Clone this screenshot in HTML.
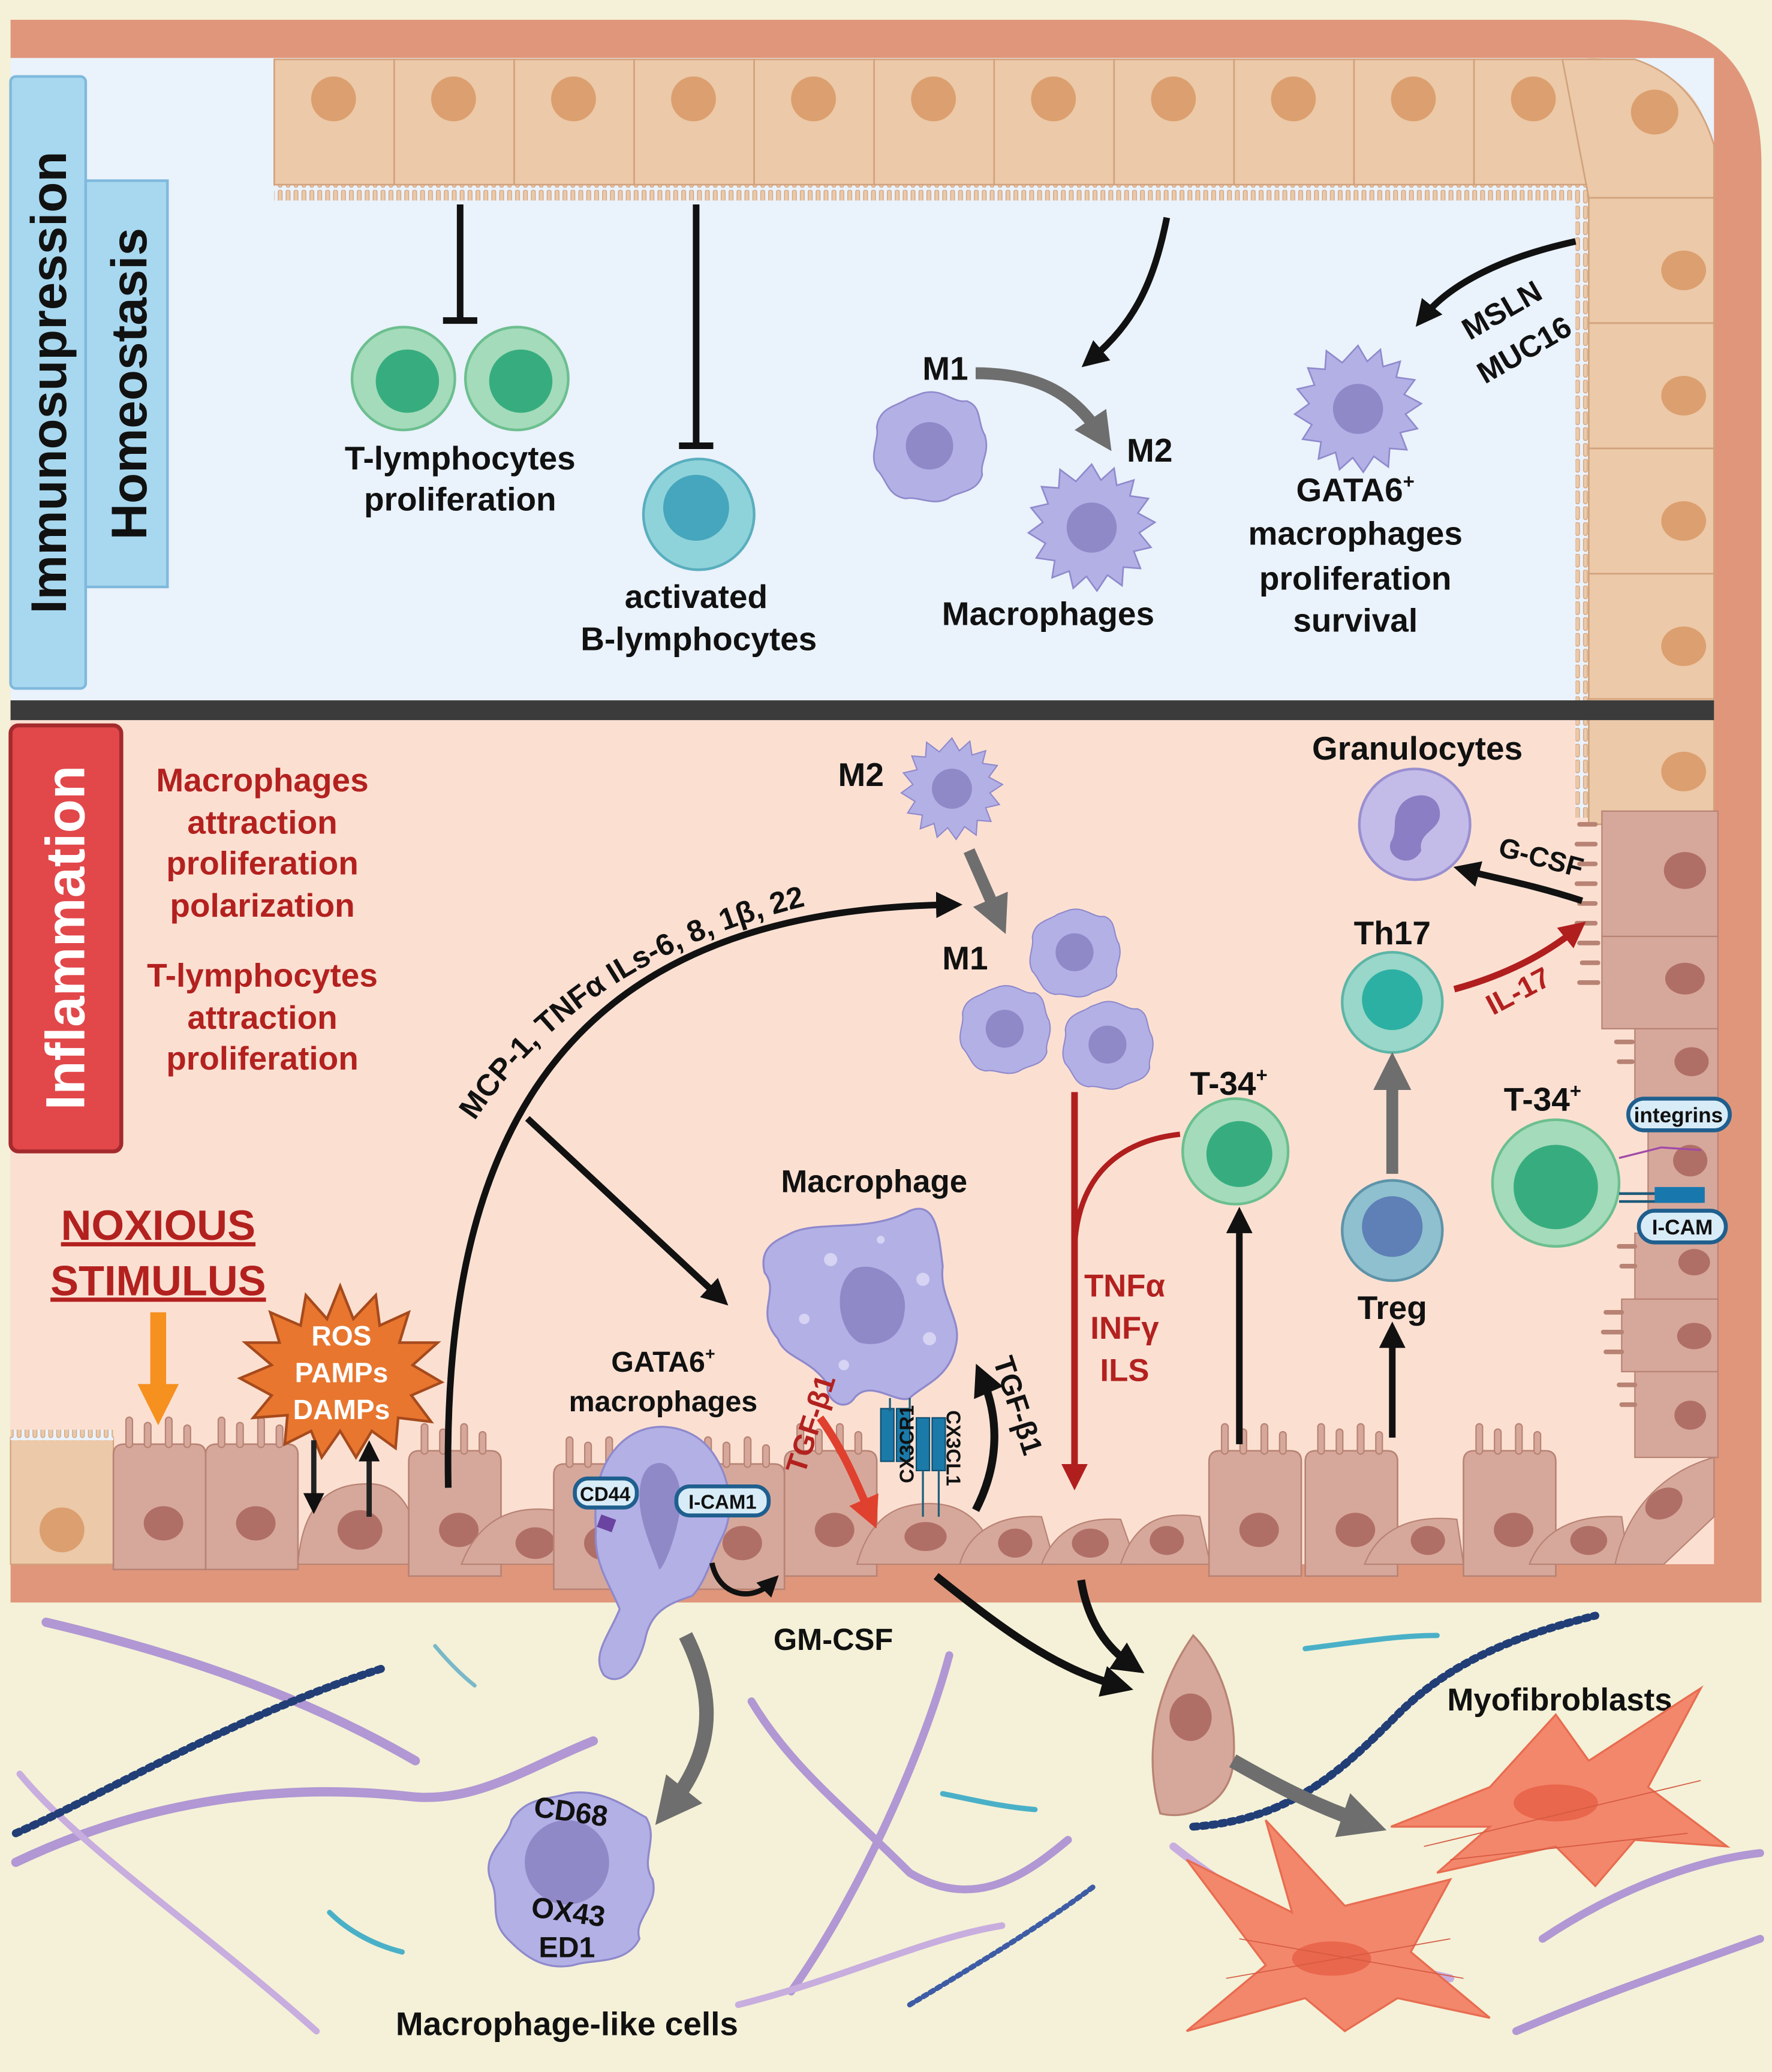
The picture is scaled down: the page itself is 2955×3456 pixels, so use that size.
<!DOCTYPE html>
<html><head><meta charset="utf-8">
<style>
html,body{margin:0;padding:0;background:#f4f1d8;}
svg{display:block}
text{font-family:"Liberation Sans",sans-serif;font-weight:bold;}
</style></head>
<body>
<svg xmlns="http://www.w3.org/2000/svg" width="2955" height="3456" viewBox="0 0 1344 1571" preserveAspectRatio="none">
<defs>
<marker id="ab" viewBox="0 0 10 10" refX="5" refY="5" markerWidth="4" markerHeight="4" orient="auto-start-reverse"><path d="M0,0 L10,5 L0,10 z" fill="#111"/></marker>
<marker id="ag" viewBox="0 0 10 10" refX="5" refY="5" markerWidth="3.2" markerHeight="3.2" orient="auto"><path d="M0,0 L10,5 L0,10 z" fill="#6e6e6e"/></marker>
<marker id="ar" viewBox="0 0 10 10" refX="5" refY="5" markerWidth="4" markerHeight="4" orient="auto"><path d="M0,0 L10,5 L0,10 z" fill="#b01e1e"/></marker>
<marker id="ar2" viewBox="0 0 10 10" refX="5" refY="5" markerWidth="4" markerHeight="4" orient="auto"><path d="M0,0 L10,5 L0,10 z" fill="#e0402e"/></marker>
<marker id="ao" viewBox="0 0 10 10" refX="5" refY="5" markerWidth="2.6" markerHeight="2.6" orient="auto"><path d="M0,0 L10,5 L0,10 z" fill="#f6901e"/></marker>
<pattern id="mv" width="6" height="12" patternUnits="userSpaceOnUse"><rect width="6" height="12" fill="#eaf2fb"/><rect x="1" y="0" width="3" height="10" rx="1.5" fill="#ecc9a8" stroke="#d1a27d" stroke-width="0.6"/></pattern>
<g id="spiky">
<path d="M0,-48 L7,-36 L17,-45 L19,-32 L32,-36 L29,-24 L43,-22 L35,-11 L48,-4 L36,4 L45,15 L32,18 L37,31 L24,30 L23,44 L12,36 L4,48 L-4,37 L-14,46 L-17,33 L-30,38 L-28,25 L-42,23 L-35,12 L-48,4 L-37,-4 L-46,-15 L-33,-18 L-38,-31 L-25,-30 L-24,-44 L-12,-35 Z" fill="#b3b0e6" stroke="#8f89cc" stroke-width="1.2"/>
<circle r="19" fill="#9089c8"/>
</g>
<g id="blob">
<path d="M-5,-40 C10,-44 18,-32 28,-34 C40,-30 36,-18 42,-8 C46,6 38,12 40,22 C36,36 22,34 14,40 C2,46 -8,38 -18,40 C-32,38 -32,26 -40,18 C-46,6 -38,-4 -40,-14 C-38,-30 -24,-30 -16,-36 Z" fill="#b3b0e6" stroke="#8f89cc" stroke-width="1.2"/>
<circle r="18" fill="#9089c8"/>
</g>
<g id="topcell"><rect x="0" y="45" width="91" height="95" fill="#ecc9a8" stroke="#d1a27d" stroke-width="1.2"/><ellipse cx="45" cy="75" rx="17" ry="17" fill="#dc9f6f"/></g>
<g id="rcell"><rect x="0" y="0" width="95" height="95" fill="#ecc9a8" stroke="#d1a27d" stroke-width="1.2"/><ellipse cx="72" cy="55" rx="17" ry="15" fill="#dc9f6f"/></g>
<g id="bcell"><path d="M0,95 L0,8 Q0,0 8,0 L62,0 Q70,0 70,8 L70,95 Z" fill="#d6a89b" stroke="#b88374" stroke-width="1.2"/><ellipse cx="38" cy="60" rx="15" ry="13" fill="#b06f66"/><path d="M12,0 v-18 M26,0 v-14 M42,0 v-18 M56,0 v-12" stroke="#b88374" stroke-width="6" stroke-linecap="round"/><path d="M12,0 v-18 M26,0 v-14 M42,0 v-18 M56,0 v-12" stroke="#d6a89b" stroke-width="4" stroke-linecap="round"/></g>
</defs>

<rect width="1344" height="1571" fill="#f4f1d8"/>
<path d="M8,15 H1230 Q1336,15 1336,125 V1215 H8 Z" fill="#e0967b"/>
<path d="M8,44 H1212 Q1300,44 1300,132 V1186 H8 Z" fill="#fbe0d2"/>
<rect x="8" y="44" width="1292" height="487" fill="#eaf2fb"/>
<path d="M1205,44 Q1300,44 1300,132 V531 H1205 Z" fill="#ecc9a8"/>
<rect x="208" y="139" width="1000" height="13" fill="url(#mv)"/>
<use href="#topcell" x="208"/><use href="#topcell" x="299"/><use href="#topcell" x="390"/><use href="#topcell" x="481"/><use href="#topcell" x="572"/><use href="#topcell" x="663"/><use href="#topcell" x="754"/><use href="#topcell" x="845"/><use href="#topcell" x="936"/><use href="#topcell" x="1027"/><use href="#topcell" x="1118"/>
<path d="M1185,45 L1240,45 Q1285,60 1300,110 L1300,150 L1205,150 Z" fill="#ecc9a8" stroke="#d1a27d" stroke-width="1.2"/>
<ellipse cx="1255" cy="85" rx="18" ry="17" fill="#dc9f6f"/>
<rect x="1195" y="150" width="12" height="470" fill="url(#mv)"/>
<use href="#rcell" x="1205" y="150"/><use href="#rcell" x="1205" y="245"/><use href="#rcell" x="1205" y="340"/><use href="#rcell" x="1205" y="435"/><use href="#rcell" x="1205" y="530"/>
<rect x="8" y="531" width="1292" height="15" fill="#3b3b3b"/>
<g>
<rect x="1215" y="615" width="88" height="95" fill="#d6a89b" stroke="#b88374"/><ellipse cx="1278" cy="660" rx="16" ry="14" fill="#b06f66"/>
<rect x="1215" y="710" width="88" height="70" fill="#d6a89b" stroke="#b88374"/><ellipse cx="1278" cy="742" rx="15" ry="12" fill="#b06f66"/>
<rect x="1240" y="780" width="63" height="55" fill="#d6a89b" stroke="#b88374"/><ellipse cx="1283" cy="805" rx="13" ry="11" fill="#b06f66"/>
<rect x="1250" y="835" width="53" height="100" fill="#d6a89b" stroke="#b88374"/><ellipse cx="1282" cy="880" rx="13" ry="12" fill="#b06f66"/>
<rect x="1240" y="935" width="63" height="50" fill="#d6a89b" stroke="#b88374"/><ellipse cx="1285" cy="957" rx="12" ry="10" fill="#b06f66"/>
<rect x="1230" y="985" width="73" height="55" fill="#d6a89b" stroke="#b88374"/><ellipse cx="1285" cy="1013" rx="13" ry="10" fill="#b06f66"/>
<rect x="1240" y="1040" width="63" height="65" fill="#d6a89b" stroke="#b88374"/><ellipse cx="1282" cy="1073" rx="12" ry="11" fill="#b06f66"/>
</g>
<path d="M1210,625 h-12 M1210,640 h-14 M1210,655 h-12 M1210,670 h-14 M1210,685 h-12 M1210,700 h-14 M1212,715 h-14 M1212,730 h-12 M1212,745 h-14 M1238,790 h-12 M1238,805 h-10 M1240,945 h-12 M1240,960 h-10 M1230,995 h-12 M1230,1010 h-14 M1230,1025 h-12 M1240,1050 h-12 M1240,1065 h-10" stroke="#b88374" stroke-width="3.5" stroke-linecap="round"/>
<rect x="8" y="1090" width="78" height="96" fill="#ecc9a8" stroke="#d1a27d"/>
<circle cx="47" cy="1160" r="17" fill="#dc9f6f"/>
<rect x="8" y="1084" width="78" height="8" fill="url(#mv)"/>
<use href="#bcell" x="86" y="1095"/><use href="#bcell" x="156" y="1095"/>
<path d="M226,1186 C230,1130 260,1125 280,1125 C300,1125 316,1140 320,1186 Z" fill="#d6a89b" stroke="#b88374"/><ellipse cx="273" cy="1160" rx="17" ry="15" fill="#b06f66"/>
<use href="#bcell" x="310" y="1100"/>
<path d="M350,1186 C360,1160 380,1140 420,1145 L440,1186 Z" fill="#d6a89b" stroke="#b88374"/><ellipse cx="406" cy="1170" rx="15" ry="12" fill="#b06f66"/>
<use href="#bcell" x="420" y="1110"/>
<use href="#bcell" x="525" y="1110"/><use href="#bcell" x="595" y="1100"/>
<path d="M650,1186 C660,1150 680,1140 705,1140 C735,1140 750,1160 756,1186 Z" fill="#d6a89b" stroke="#b88374"/><ellipse cx="702" cy="1165" rx="16" ry="11" fill="#b06f66"/>
<path d="M728,1186 C735,1160 760,1148 790,1150 L800,1186 Z" fill="#d6a89b" stroke="#b88374"/><ellipse cx="770" cy="1170" rx="13" ry="11" fill="#b06f66"/>
<path d="M790,1186 C800,1160 820,1150 850,1152 L862,1186 Z" fill="#d6a89b" stroke="#b88374"/><ellipse cx="827" cy="1170" rx="14" ry="11" fill="#b06f66"/>
<path d="M850,1186 C860,1155 880,1145 910,1150 L918,1186 Z" fill="#d6a89b" stroke="#b88374"/><ellipse cx="885" cy="1168" rx="13" ry="11" fill="#b06f66"/>
<use href="#bcell" x="917" y="1100"/><use href="#bcell" x="990" y="1100"/>
<path d="M1035,1186 C1045,1160 1070,1148 1105,1152 L1110,1186 Z" fill="#d6a89b" stroke="#b88374"/><ellipse cx="1083" cy="1168" rx="13" ry="11" fill="#b06f66"/>
<use href="#bcell" x="1110" y="1100"/>
<path d="M1160,1186 C1170,1160 1195,1148 1230,1150 L1235,1186 Z" fill="#d6a89b" stroke="#b88374"/><ellipse cx="1205" cy="1168" rx="14" ry="11" fill="#b06f66"/>
<path d="M1225,1186 C1235,1140 1265,1115 1300,1105 L1300,1150 L1262,1186 Z" fill="#d6a89b" stroke="#b88374"/><ellipse cx="1262" cy="1140" rx="15" ry="11" fill="#b06f66" transform="rotate(-30 1262 1140)"/>

<rect x="8" y="58" width="57" height="464" rx="4" fill="#a8d8ef" stroke="#7fb9dd" stroke-width="2"/>
<text transform="translate(50,290) rotate(-90)" font-size="38" text-anchor="middle" fill="#111">Immunosupression</text>
<rect x="65" y="137" width="62" height="308" fill="#a8d8ef" stroke="#7fb9dd" stroke-width="2"/>
<text transform="translate(111,291) rotate(-90)" font-size="38" text-anchor="middle" fill="#111">Homeostasis</text>
<rect x="8" y="550" width="84" height="323" rx="6" fill="#e2474a" stroke="#a42a2d" stroke-width="3"/>
<text transform="translate(64,711) rotate(-90)" font-size="42" text-anchor="middle" fill="#fff">Inflammation</text>

<path d="M349,155 V243 M336,243 H362" stroke="#111" stroke-width="5" fill="none"/>
<path d="M528,155 V338 M515,338 H541" stroke="#111" stroke-width="5" fill="none"/>
<circle cx="306" cy="287" r="39" fill="#a4dbbb" stroke="#6cbf8f" stroke-width="2"/><circle cx="309" cy="289" r="24" fill="#37ad7f"/>
<circle cx="392" cy="287" r="39" fill="#a4dbbb" stroke="#6cbf8f" stroke-width="2"/><circle cx="395" cy="289" r="24" fill="#37ad7f"/>
<text x="349" y="356" font-size="25" text-anchor="middle" fill="#111">T-lymphocytes</text>
<text x="349" y="387" font-size="25" text-anchor="middle" fill="#111">proliferation</text>
<circle cx="530" cy="390" r="42" fill="#8fd3da" stroke="#5aaebe" stroke-width="2"/><circle cx="528" cy="385" r="25" fill="#45a6bd"/>
<text x="528" y="461" font-size="25" text-anchor="middle" fill="#111">activated</text>
<text x="530" y="493" font-size="25" text-anchor="middle" fill="#111">B-lymphocytes</text>
<path d="M885,165 C875,215 860,245 828,272" stroke="#111" stroke-width="5" fill="none" marker-end="url(#ab)"/>
<use href="#blob" x="705" y="338"/>
<use href="#spiky" x="828" y="400"/>
<path d="M740,283 C790,283 815,300 835,330" stroke="#6e6e6e" stroke-width="9" fill="none" marker-end="url(#ag)"/>
<text x="717" y="288" font-size="25" text-anchor="middle" fill="#111">M1</text>
<text x="872" y="350" font-size="25" text-anchor="middle" fill="#111">M2</text>
<text x="795" y="474" font-size="25" text-anchor="middle" fill="#111">Macrophages</text>
<path d="M1195,183 C1140,195 1100,215 1080,240" stroke="#111" stroke-width="5" fill="none" marker-end="url(#ab)"/>
<text transform="translate(1143,242) rotate(-30)" font-size="23" text-anchor="middle" fill="#111">MSLN</text>
<text transform="translate(1160,272) rotate(-30)" font-size="23" text-anchor="middle" fill="#111">MUC16</text>
<use href="#spiky" x="1030" y="310"/>
<text x="1028" y="380" font-size="25" text-anchor="middle" fill="#111">GATA6<tspan font-size="15" dy="-10">+</tspan></text>
<text x="1028" y="413" font-size="25" text-anchor="middle" fill="#111">macrophages</text>
<text x="1028" y="447" font-size="25" text-anchor="middle" fill="#111">proliferation</text>
<text x="1028" y="479" font-size="25" text-anchor="middle" fill="#111">survival</text>

<g font-size="25" fill="#b3211f" text-anchor="middle">
<text x="199" y="600">Macrophages</text><text x="199" y="632">attraction</text><text x="199" y="663">proliferation</text><text x="199" y="695">polarization</text>
<text x="199" y="748">T-lymphocytes</text><text x="199" y="780">attraction</text><text x="199" y="811">proliferation</text>
</g>
<text x="120" y="940" font-size="32" text-anchor="middle" fill="#b3211f" text-decoration="underline">NOXIOUS</text>
<text x="120" y="982" font-size="32" text-anchor="middle" fill="#b3211f" text-decoration="underline">STIMULUS</text>
<path d="M120,995 V1065" stroke="#f6901e" stroke-width="12" marker-end="url(#ao)"/>
<path d="M258,975 L268,1000 L285,982 L288,1005 L310,995 L303,1018 L332,1018 L313,1035 L335,1048 L312,1058 L327,1078 L302,1075 L300,1098 L282,1085 L270,1105 L258,1085 L244,1105 L236,1085 L216,1095 L218,1073 L192,1075 L206,1058 L182,1045 L206,1035 L186,1018 L212,1018 L205,995 L228,1005 L232,982 L248,1000 Z" fill="#e8762f" stroke="#a64a1c" stroke-width="2"/>
<g font-size="21" fill="#fff" text-anchor="middle"><text x="259" y="1020">ROS</text><text x="259" y="1048">PAMPs</text><text x="259" y="1076">DAMPs</text></g>
<path d="M238,1092 V1140" stroke="#222" stroke-width="4" marker-end="url(#ab)"/>
<path d="M280,1150 V1100" stroke="#222" stroke-width="4" marker-end="url(#ab)"/>
<path d="M340,1128 C335,870 420,690 720,686" stroke="#111" stroke-width="5" fill="none" marker-end="url(#ab)"/>
<path id="arcT" d="M360,850 C420,760 520,695 690,672" fill="none"/>
<text font-size="23" fill="#111"><textPath href="#arcT">MCP-1, TNFα  ILs-6, 8, 1β, 22</textPath></text>
<path d="M400,848 L545,983" stroke="#111" stroke-width="5" marker-end="url(#ab)"/>
<use href="#spiky" transform="translate(722,598) scale(0.8)"/>
<text x="653" y="596" font-size="25" text-anchor="middle" fill="#111">M2</text>
<path d="M735,645 L757,695" stroke="#6e6e6e" stroke-width="9" marker-end="url(#ag)"/>
<text x="732" y="735" font-size="25" text-anchor="middle" fill="#111">M1</text>
<use href="#blob" transform="translate(815,722) scale(0.8)"/>
<use href="#blob" transform="translate(762,780) scale(0.8)"/>
<use href="#blob" transform="translate(840,792) scale(0.8)"/>
<path d="M815,828 V1120" stroke="#b01e1e" stroke-width="5" marker-end="url(#ar)"/>
<path d="M895,860 C850,865 818,890 815,945" stroke="#b01e1e" stroke-width="4" fill="none"/>
<g font-size="24" fill="#b3211f" text-anchor="middle"><text x="853" y="983">TNFα</text><text x="853" y="1015">INFγ</text><text x="853" y="1047">ILS</text></g>
<circle cx="937" cy="873" r="40" fill="#a4dbbb" stroke="#6cbf8f" stroke-width="2"/><circle cx="940" cy="875" r="25" fill="#37ad7f"/>
<text x="932" y="830" font-size="25" text-anchor="middle" fill="#111">T-34<tspan font-size="15" dy="-10">+</tspan></text>
<path d="M940,1095 V925" stroke="#111" stroke-width="5" marker-end="url(#ab)"/>
<circle cx="1056" cy="760" r="38" fill="#98d7c9" stroke="#5db5a6" stroke-width="2"/><circle cx="1056" cy="758" r="23" fill="#2cb0a4"/>
<text x="1056" y="716" font-size="25" text-anchor="middle" fill="#111">Th17</text>
<circle cx="1056" cy="933" r="38" fill="#8fc0cf" stroke="#5e93a8" stroke-width="2"/><circle cx="1056" cy="930" r="23" fill="#5f7fb7"/>
<text x="1056" y="1000" font-size="25" text-anchor="middle" fill="#111">Treg</text>
<path d="M1056,890 V812" stroke="#6e6e6e" stroke-width="9" marker-end="url(#ag)"/>
<path d="M1056,1090 V1012" stroke="#111" stroke-width="5" marker-end="url(#ab)"/>
<path d="M1103,750 C1140,740 1170,725 1195,705" stroke="#b01e1e" stroke-width="5" fill="none" marker-end="url(#ar)"/>
<text transform="translate(1155,758) rotate(-28)" font-size="22" fill="#b3211f" text-anchor="middle">IL-17</text>
<circle cx="1073" cy="625" r="42" fill="#c4bce8" stroke="#9a8fd0" stroke-width="2"/>
<path d="M1060,615 C1065,600 1090,598 1092,615 C1094,630 1075,630 1078,645 C1070,660 1050,650 1055,638 C1060,630 1056,622 1060,615 Z" fill="#8c7ec4"/>
<text x="1075" y="576" font-size="25" text-anchor="middle" fill="#111">Granulocytes</text>
<path d="M1200,683 C1160,670 1130,665 1112,660" stroke="#111" stroke-width="5" fill="none" marker-end="url(#ab)"/>
<text transform="translate(1167,657) rotate(15)" font-size="21" fill="#111" text-anchor="middle">G-CSF</text>
<circle cx="1180" cy="897" r="48" fill="#a4dbbb" stroke="#6cbf8f" stroke-width="2"/><circle cx="1180" cy="900" r="32" fill="#37ad7f"/>
<text x="1170" y="842" font-size="25" text-anchor="middle" fill="#111">T-34<tspan font-size="15" dy="-10">+</tspan></text>
<path d="M1228,905 H1290 M1228,911 H1290" stroke="#1e5a7a" stroke-width="2"/>
<rect x="1255" y="900" width="38" height="12" fill="#1878ae"/>
<path d="M1228,878 L1260,870 L1290,872" stroke="#a04aa8" stroke-width="1.5" fill="none"/>
<rect x="1235" y="833" width="77" height="24" rx="12" fill="#d8ecf8" stroke="#1f5f8e" stroke-width="3"/>
<text x="1273" y="851" font-size="16" text-anchor="middle" fill="#111">integrins</text>
<rect x="1243" y="918" width="66" height="24" rx="12" fill="#d8ecf8" stroke="#1f5f8e" stroke-width="3"/>
<text x="1276" y="936" font-size="16" text-anchor="middle" fill="#111">I-CAM</text>

<path d="M600,935 C620,925 660,935 690,918 C710,910 712,935 715,960 C712,985 730,1000 725,1020 C720,1045 700,1050 690,1060 C680,1065 660,1045 648,1060 C640,1072 625,1060 628,1050 C615,1030 595,1030 590,1015 C572,995 592,980 580,965 C575,945 590,940 600,935 Z" fill="#b3b0e6" stroke="#8f89cc" stroke-width="1.5"/>
<path d="M648,962 C665,955 690,972 686,995 C684,1015 668,1022 652,1018 C636,1010 630,975 648,962 Z" fill="#9089c8"/>
<g fill="#d6d3f3"><circle cx="630" cy="955" r="5"/><circle cx="700" cy="970" r="5"/><circle cx="610" cy="1000" r="4"/><circle cx="705" cy="1015" r="5"/><circle cx="668" cy="940" r="3"/><circle cx="640" cy="1035" r="4"/></g>
<text x="663" y="904" font-size="24" text-anchor="middle" fill="#111">Macrophage</text>
<g fill="#1b7aa8" stroke="#0f4e70" stroke-width="1"><rect x="668" y="1068" width="10" height="40"/><rect x="680" y="1068" width="10" height="40"/><rect x="695" y="1075" width="10" height="40"/><rect x="707" y="1075" width="10" height="40"/></g>
<path d="M675,1060 V1070 M690,1060 V1070 M700,1115 V1150 M712,1115 V1150" stroke="#1f5f7a" stroke-width="1.5"/>
<text transform="translate(693,1095) rotate(-90)" font-size="15" text-anchor="middle" fill="#111">CX3CR1</text>
<text transform="translate(718,1098) rotate(90)" font-size="15" text-anchor="middle" fill="#111">CX3CL1</text>
<path d="M622,1075 C640,1100 650,1125 660,1148" stroke="#e0402e" stroke-width="6" fill="none" marker-end="url(#ar2)"/>
<text transform="translate(622,1082) rotate(-72)" font-size="22" text-anchor="middle" fill="#b3211f">TGF-β1</text>
<path d="M740,1145 C758,1110 758,1075 745,1045" stroke="#111" stroke-width="6" fill="none" marker-end="url(#ab)"/>
<text transform="translate(765,1068) rotate(72)" font-size="22" text-anchor="middle" fill="#111">TGF-β1</text>
<path d="M470,1095 C490,1075 520,1080 535,1095 C550,1110 560,1140 548,1165 C540,1180 535,1200 525,1210 C510,1215 495,1220 490,1240 C485,1265 470,1280 458,1270 C448,1255 462,1240 470,1220 C462,1200 450,1185 452,1160 C450,1130 455,1110 470,1095 Z" fill="#b3b0e6" stroke="#8f89cc" stroke-width="1.5"/>
<path d="M496,1110 C510,1105 520,1125 515,1150 C510,1175 502,1190 500,1190 C495,1175 485,1155 485,1135 C485,1120 490,1112 496,1110 Z" fill="#9089c8"/>
<text x="503" y="1040" font-size="22" text-anchor="middle" fill="#111">GATA6<tspan font-size="13" dy="-9">+</tspan></text>
<text x="503" y="1070" font-size="22" text-anchor="middle" fill="#111">macrophages</text>
<rect x="436" y="1121" width="47" height="22" rx="10" fill="#d8ecf8" stroke="#1f5f8e" stroke-width="3"/>
<text x="459" y="1138" font-size="15" text-anchor="middle" fill="#111">CD44</text>
<rect x="513" y="1127" width="70" height="22" rx="10" fill="#d8ecf8" stroke="#1f5f8e" stroke-width="3"/>
<text x="548" y="1144" font-size="15" text-anchor="middle" fill="#111">I-CAM1</text>
<rect x="454" y="1150" width="12" height="10" fill="#6a44a0" transform="rotate(20 460 1155)"/>
<path d="M540,1185 C545,1210 570,1215 585,1200" stroke="#111" stroke-width="4" fill="none" marker-end="url(#ab)"/>
<text x="632" y="1251" font-size="23" text-anchor="middle" fill="#111">GM-CSF</text>

<g fill="none" stroke-linecap="round">
<path d="M35,1230 C120,1250 220,1280 315,1335" stroke="#b197d3" stroke-width="7"/>
<path d="M12,1412 C100,1370 200,1350 310,1362 C360,1368 400,1340 450,1320" stroke="#b197d3" stroke-width="7"/>
<path d="M15,1345 C60,1400 150,1460 240,1540" stroke="#c8addf" stroke-width="5"/>
<path d="M570,1290 C600,1340 640,1370 690,1420 C740,1450 780,1420 810,1395" stroke="#b197d3" stroke-width="6"/>
<path d="M720,1255 C700,1330 650,1440 600,1510" stroke="#b197d3" stroke-width="6"/>
<path d="M560,1520 C640,1500 700,1470 760,1460" stroke="#c8addf" stroke-width="5"/>
<path d="M890,1400 C940,1440 1010,1480 1100,1500" stroke="#c8addf" stroke-width="6"/>
<path d="M1170,1470 C1230,1430 1290,1410 1335,1405" stroke="#b197d3" stroke-width="6"/>
<path d="M1150,1540 C1220,1510 1280,1490 1335,1470" stroke="#b197d3" stroke-width="6"/>
<path d="M12,1390 C80,1360 180,1300 290,1265" stroke="#223e77" stroke-width="6" stroke-dasharray="3 4"/>
<path d="M905,1385 C980,1380 1020,1340 1060,1300 C1100,1260 1150,1240 1210,1225" stroke="#223e77" stroke-width="6" stroke-dasharray="3 4"/>
<path d="M690,1520 C740,1490 790,1460 830,1430" stroke="#3e5ca5" stroke-width="4" stroke-dasharray="3 3"/>
<path d="M990,1250 C1030,1245 1060,1240 1090,1240" stroke="#4ab0c8" stroke-width="4"/>
<path d="M715,1360 C740,1365 760,1370 785,1372" stroke="#4ab0c8" stroke-width="4"/>
<path d="M250,1450 C265,1465 285,1475 305,1480" stroke="#4ab0c8" stroke-width="4"/>
<path d="M330,1248 C340,1260 350,1270 360,1278" stroke="#7ab8c8" stroke-width="3"/>
</g>
<path d="M520,1240 C545,1290 540,1330 508,1370" stroke="#6e6e6e" stroke-width="11" fill="none" marker-end="url(#ag)"/>
<path d="M430,1360 C455,1355 475,1370 490,1378 C500,1395 485,1410 495,1425 C500,1445 480,1455 485,1470 C475,1490 450,1485 435,1490 C410,1495 395,1480 385,1470 C370,1455 380,1440 372,1425 C365,1405 385,1395 388,1380 C400,1362 415,1365 430,1360 Z" fill="#b3b0e6" stroke="#8f89cc" stroke-width="1.5"/>
<circle cx="430" cy="1412" r="32" fill="#9089c8"/>
<text transform="translate(432,1381) rotate(8)" font-size="22" text-anchor="middle" fill="#111">CD68</text>
<text transform="translate(430,1457) rotate(8)" font-size="22" text-anchor="middle" fill="#111">OX43</text>
<text x="430" y="1484" font-size="22" text-anchor="middle" fill="#111">ED1</text>
<text x="430" y="1543" font-size="25" text-anchor="middle" fill="#111">Macrophage-like cells</text>
<path d="M710,1195 C760,1235 800,1265 848,1278" stroke="#111" stroke-width="6" fill="none" marker-end="url(#ab)"/>
<path d="M820,1198 C825,1230 840,1250 858,1262" stroke="#111" stroke-width="6" fill="none" marker-end="url(#ab)"/>
<path d="M905,1240 C925,1260 940,1300 935,1340 C930,1370 900,1380 880,1375 C870,1340 870,1290 905,1240 Z" fill="#d6a89b" stroke="#b88374" stroke-width="1.5"/>
<ellipse cx="903" cy="1302" rx="16" ry="18" fill="#b06f66"/>
<path d="M935,1335 C970,1355 1000,1370 1035,1382" stroke="#6e6e6e" stroke-width="11" fill="none" marker-end="url(#ag)"/>
<text x="1183" y="1297" font-size="24" text-anchor="middle" fill="#111">Myofibroblasts</text>
<path d="M1055,1385 L1130,1355 L1180,1300 L1205,1335 L1290,1280 L1250,1355 L1310,1400 L1240,1395 L1210,1430 L1180,1400 L1090,1420 L1130,1385 Z" fill="#f3876b" stroke="#e86c50" stroke-width="1.5"/>
<ellipse cx="1180" cy="1367" rx="32" ry="14" fill="#e9674c"/>
<path d="M900,1410 L980,1450 L960,1380 L1020,1445 L1100,1425 L1070,1480 L1130,1530 L1060,1515 L1020,1540 L990,1515 L900,1540 L960,1490 Z" fill="#f3876b" stroke="#e86c50" stroke-width="1.5"/>
<ellipse cx="1010" cy="1485" rx="30" ry="13" fill="#e9674c"/>
<g stroke="#d55a42" stroke-width="0.8" fill="none"><path d="M1080,1400 L1290,1350 M1100,1410 L1280,1390 M940,1470 L1110,1500 M930,1500 L1100,1470"/></g>
</svg>
</body></html>
